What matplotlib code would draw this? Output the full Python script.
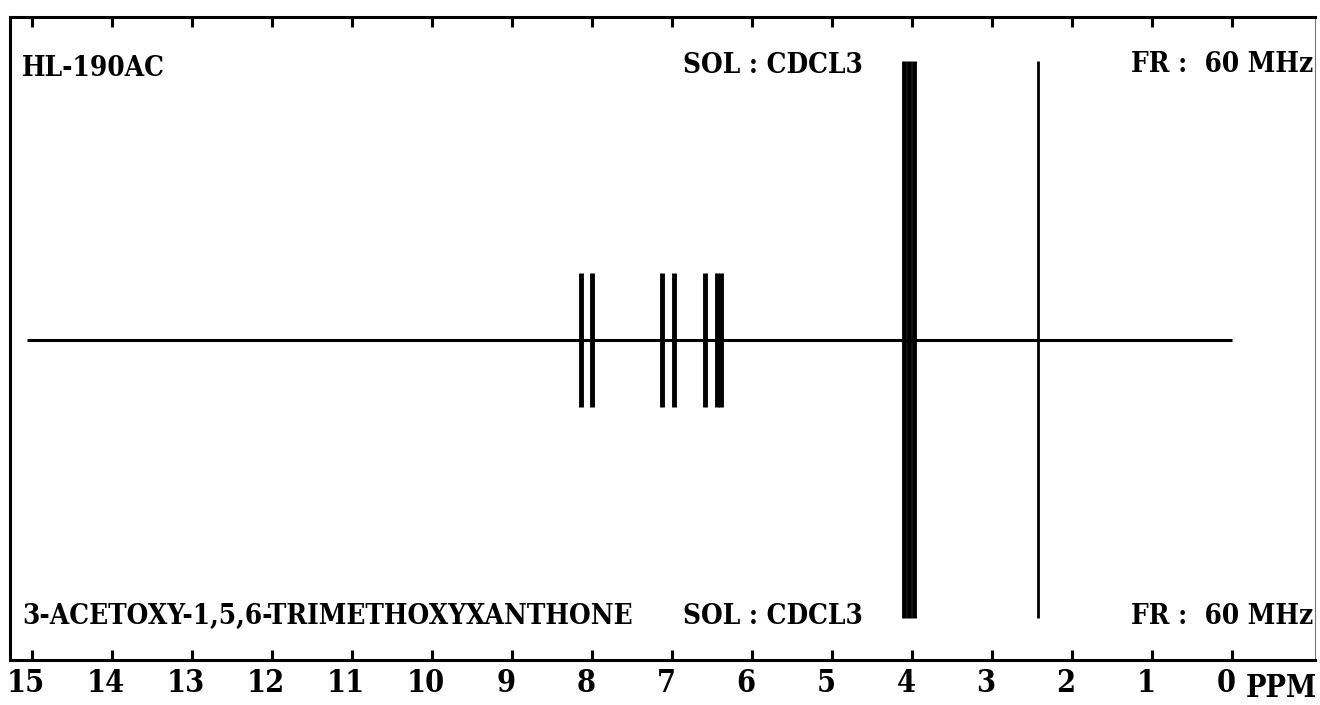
import numpy as np
import matplotlib
matplotlib.use('Agg')
import matplotlib.pyplot as plt
from matplotlib import font_manager
from matplotlib.transforms import ScaledTranslation

# --------------------------------------------------------------------------- #
# Data
# --------------------------------------------------------------------------- #
ring_ppm = [8.14, 8.00, 7.13, 6.98, 6.59, 6.44, 6.39]
ring_int = [0.21, 0.21, 0.21, 0.21, 0.21, 0.21, 0.21]
methoxy_ppm = [4.10, 4.04, 3.98]
methoxy_int = [0.87, 0.87, 0.87]
acetyl_ppm = [2.43]
acetyl_int = [0.87]
baseline_ppm = [15.06, 0.0]

tick_ppm = list(range(15, -1, -1))
tick_labels = [str(t) for t in tick_ppm]

sample_id = "HL-190AC"
compound = "3-ACETOXY-1,5,6-TRIMETHOXYXANTHONE"
solvent = "SOL : CDCL3"
field = "FR :  60 MHz"

# --------------------------------------------------------------------------- #
# Pick a narrow bold font if there is one
# --------------------------------------------------------------------------- #
entries = font_manager.fontManager.ttflist
fam, stretch = 'DejaVu Sans', 'normal'
for name in ['DejaVu Serif', 'DejaVu Sans']:
  if any(e.name == name and e.stretch == 'condensed' for e in entries):
    fam, stretch = name, 'condensed'
    break
else:
  if any(e.name == 'Liberation Sans Narrow' for e in entries):
    fam, stretch = 'Liberation Sans Narrow', 'normal'

fkw = dict(family=[fam, 'DejaVu Sans'], stretch=stretch, weight='bold')
fs = 20       # header / footer text
fs_tick = 22  # axis numbers

# --------------------------------------------------------------------------- #
# Plot
# --------------------------------------------------------------------------- #
W, H = 1320, 705
fig = plt.figure(figsize=(W/100, H/100), dpi=100)
ax = fig.add_axes([10/W, 1 - 660/H, (1315 - 10)/W, (660 - 17)/H])

ax.plot(baseline_ppm, [0, 0], color='k', lw=2.2, solid_capstyle='butt')
ax.vlines(ring_ppm, -np.array(ring_int), ring_int, color='k', lw=3.5)
ax.vlines(methoxy_ppm, -np.array(methoxy_int), methoxy_int, color='k', lw=3.5)
ax.vlines(acetyl_ppm, -np.array(acetyl_int), acetyl_int, color='k', lw=2.0)

ax.set_xlim(15.275, -1.0375)
ax.set_ylim(-1.0, 1.009)
ax.set_yticks([])
ax.set_xticks(tick_ppm)
ax.set_xticklabels(tick_labels, fontsize=fs_tick, **fkw)
ax.tick_params(axis='x', which='both', direction='in', top=True, bottom=True,
               length=7, width=2.2, pad=6)
shift = ScaledTranslation(-6/100, 0, fig.dpi_scale_trans)
for lab in ax.get_xticklabels():
  lab.set_transform(lab.get_transform() + shift)

for s in ['left', 'top', 'bottom']:
  ax.spines[s].set_linewidth(2.2)
ax.spines['right'].set_linewidth(0.8)
ax.spines['right'].set_color('#777777')

# header / footer text
tf = fig.transFigure
ax.text(22/W, 1 - 76/H, sample_id, transform=tf, ha='left', va='baseline', fontsize=fs, **fkw)
ax.text(683/W, 1 - 73/H, solvent, transform=tf, ha='left', va='baseline', fontsize=fs, **fkw)
ax.text(1313/W, 1 - 72/H, field, transform=tf, ha='right', va='baseline', fontsize=fs, **fkw)
ax.text(22/W, 1 - 624/H, compound, transform=tf, ha='left', va='baseline', fontsize=fs, **fkw)
ax.text(683/W, 1 - 624/H, solvent, transform=tf, ha='left', va='baseline', fontsize=fs, **fkw)
ax.text(1313/W, 1 - 624/H, field, transform=tf, ha='right', va='baseline', fontsize=fs, **fkw)
fig.text(1317/W, 1 - 704/H, "PPM", ha='right', va='bottom', fontsize=fs_tick, **fkw)

fig.savefig('out.png', dpi=100)
